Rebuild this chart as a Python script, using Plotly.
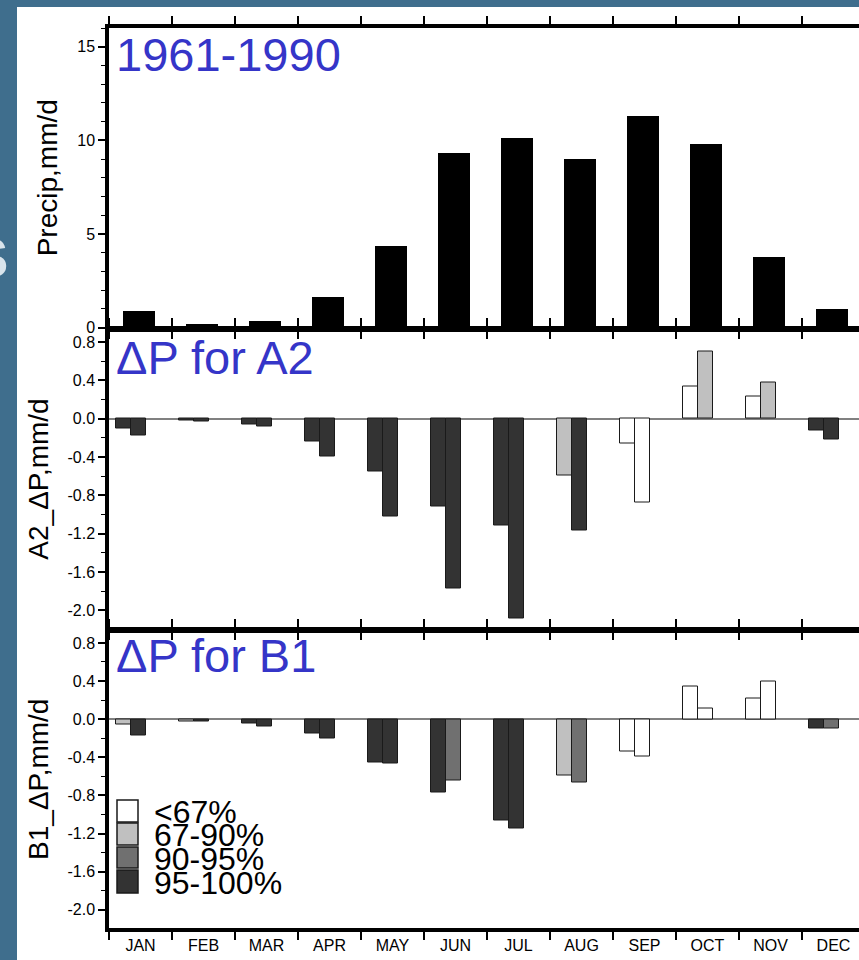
import plotly.graph_objects as go

# ---------------- data ----------------
months = ["JAN", "FEB", "MAR", "APR", "MAY", "JUN",
          "JUL", "AUG", "SEP", "OCT", "NOV", "DEC"]

# 1961-1990 monthly mean precipitation (mm/d)
clim_precip = [0.88, 0.18, 0.36, 1.63, 4.37, 9.34, 10.15, 9.02, 11.3, 9.8, 3.75, 1.0]

# A2 scenario precipitation change (mm/d), two bars per month
a2_first = [-0.10, -0.02, -0.06, -0.24, -0.55, -0.92, -1.12, -0.59, -0.26, 0.34, 0.236, -0.12]
a2_second = [-0.18, -0.03, -0.08, -0.40, -1.02, -1.77, -2.09, -1.17, -0.88, 0.705, 0.38, -0.215]
a2_first_sig = ["95-100%", "95-100%", "95-100%", "95-100%", "95-100%", "95-100%",
                "95-100%", "67-90%", "<67%", "<67%", "<67%", "95-100%"]
a2_second_sig = ["95-100%", "95-100%", "95-100%", "95-100%", "95-100%", "95-100%",
                 "95-100%", "95-100%", "<67%", "67-90%", "67-90%", "95-100%"]

# B1 scenario precipitation change (mm/d), two bars per month
b1_first = [-0.06, -0.02, -0.045, -0.15, -0.45, -0.77, -1.06, -0.595, -0.34, 0.345, 0.22, -0.095]
b1_second = [-0.17, -0.02, -0.075, -0.20, -0.47, -0.64, -1.15, -0.66, -0.39, 0.115, 0.40, -0.095]
b1_first_sig = ["67-90%", "67-90%", "95-100%", "95-100%", "95-100%", "95-100%",
                "95-100%", "67-90%", "<67%", "<67%", "<67%", "95-100%"]
b1_second_sig = ["95-100%", "95-100%", "95-100%", "95-100%", "95-100%", "90-95%",
                 "95-100%", "90-95%", "<67%", "<67%", "<67%", "90-95%"]

sig_classes = ["<67%", "67-90%", "90-95%", "95-100%"]
sig_colors = {"<67%": "#ffffff", "67-90%": "#c0c0c0",
              "90-95%": "#707070", "95-100%": "#333333"}

# ---------------- geometry helpers ----------------
W, H = 859, 960
ML = 109                       # left edge of the plotting area (px)
PW = W - ML                    # plotting width (px)
MONTH_PX = 63.0                # width of one month slot (px)
x_range = [-0.5, -0.5 + PW / MONTH_PX]


def fx(px):
    return (px - ML) / PW


def fy(py):
    return 1 - py / H


FONT = "Liberation Sans, Arial, Helvetica, sans-serif"
BLUE = "#3535c8"

fig = go.Figure()

# top panel: climatology
fig.add_trace(go.Bar(
    x=months, y=clim_precip, xaxis="x", yaxis="y",
    marker=dict(color="#000000", line=dict(width=0)),
    offset=-0.283, width=0.51, showlegend=False,
))


def add_pair(first, second, first_sig, second_sig, xa, ya):
    for vals, sig, off in ((first, first_sig, -0.385), (second, second_sig, -0.148)):
        fig.add_trace(go.Bar(
            x=months, y=vals, xaxis=xa, yaxis=ya,
            marker=dict(color=[sig_colors[s] for s in sig],
                        line=dict(color="#1a1a1a", width=1)),
            offset=off, width=0.237, showlegend=False,
        ))


add_pair(a2_first, a2_second, a2_first_sig, a2_second_sig, "x2", "y2")
add_pair(b1_first, b1_second, b1_first_sig, b1_second_sig, "x3", "y3")

# ---------------- axes ----------------
def xaxis_cfg(anchor, labels):
    return dict(
        domain=[0, 1], anchor=anchor, type="category",
        categoryorder="array", categoryarray=months,
        range=x_range, tickson="boundaries",
        ticks="outside", ticklen=8, tickwidth=2, tickcolor="#000",
        showline=True, linewidth=3.5, linecolor="#000", mirror="allticks",
        showgrid=False, zeroline=False, showticklabels=labels,
        tickfont=dict(family=FONT, size=16, color="#000"),
    )


def yaxis_cfg(anchor, dom, rng, vals, texts, minor_dt, title, zero):
    return dict(
        domain=dom, anchor=anchor, range=rng,
        tickmode="array", tickvals=vals, ticktext=texts,
        ticks="outside", ticklen=7, tickwidth=1.5, tickcolor="#000",
        minor=dict(tick0=0, dtick=minor_dt, ticks="outside", ticklen=4,
                   tickwidth=1, tickcolor="#000"),
        showline=True, linewidth=3.5, linecolor="#000", mirror=False,
        showgrid=False, zeroline=zero, zerolinecolor="#808080", zerolinewidth=1.5,
        tickfont=dict(family=FONT, size=16, color="#000"),
        title=dict(text=title, font=dict(family=FONT, size=28, color="#000"), standoff=12),
    )


dvals = [-2.0, -1.6, -1.2, -0.8, -0.4, 0.0, 0.4, 0.8]
dtexts = ["-2.0", "-1.6", "-1.2", "-0.8", "-0.4", "0.0", "0.4", "0.8"]
drange = [-2.19, 0.93]

fig.update_layout(
    width=W, height=H,
    margin=dict(l=ML, r=0, t=0, b=0, autoexpand=False),
    paper_bgcolor="#3f6e8d", plot_bgcolor="#ffffff",
    barmode="overlay", bargap=0,
    xaxis=xaxis_cfg("y", False),
    xaxis2=xaxis_cfg("y2", False),
    xaxis3=xaxis_cfg("y3", True),
    yaxis=yaxis_cfg("x", [fy(327.5), fy(28)], [0, 16], [0, 5, 10, 15],
                    ["0", "5", "10", "15"], 1, "Precip,mm/d", False),
    yaxis2=yaxis_cfg("x2", [fy(628.5), fy(329.5)], drange, dvals, dtexts, 0.2,
                     "A2_ΔP,mm/d", True),
    yaxis3=yaxis_cfg("x3", [fy(928), fy(630.5)], drange, dvals, dtexts, 0.2,
                     "B1_ΔP,mm/d", True),
    font=dict(family=FONT),
)

# white slide area behind the chart
fig.add_shape(type="rect", xref="paper", yref="paper",
              x0=fx(17), x1=fx(W + 5), y0=fy(H + 5), y1=fy(7),
              fillcolor="#ffffff", line=dict(width=0), layer="below")

# panel headings
for txt, ycen, size in (("1961-1990", 55, 47), ("ΔP for A2", 357.5, 47), ("ΔP for B1", 655, 47)):
    fig.add_annotation(text=txt, xref="paper", yref="paper", x=fx(114), y=fy(ycen),
                       xanchor="left", yanchor="middle", showarrow=False,
                       font=dict(family=FONT, size=size, color=BLUE))

# significance key
box_rows = [(800, 822), (823, 845), (847, 868), (870, 893)]
for cls, (top, bot) in zip(sig_classes, box_rows):
    fig.add_shape(type="rect", xref="paper", yref="paper",
                  x0=fx(117), x1=fx(138), y0=fy(bot), y1=fy(top),
                  fillcolor=sig_colors[cls], line=dict(color="#1a1a1a", width=1.5))
    fig.add_annotation(text=cls, xref="paper", yref="paper", x=fx(152), y=fy((top + bot) / 2 + 1),
                       xanchor="left", yanchor="middle", showarrow=False,
                       font=dict(family=FONT, size=32, color="#000"))

# slide lettering peeking in at the left edge
fig.add_annotation(text="<b>S</b>", xref="paper", yref="paper", x=fx(-10), y=fy(257),
                   xanchor="center", yanchor="middle", showarrow=False,
                   font=dict(family=FONT, size=56, color="#d9e4ec"))

fig.write_html("out.html")
